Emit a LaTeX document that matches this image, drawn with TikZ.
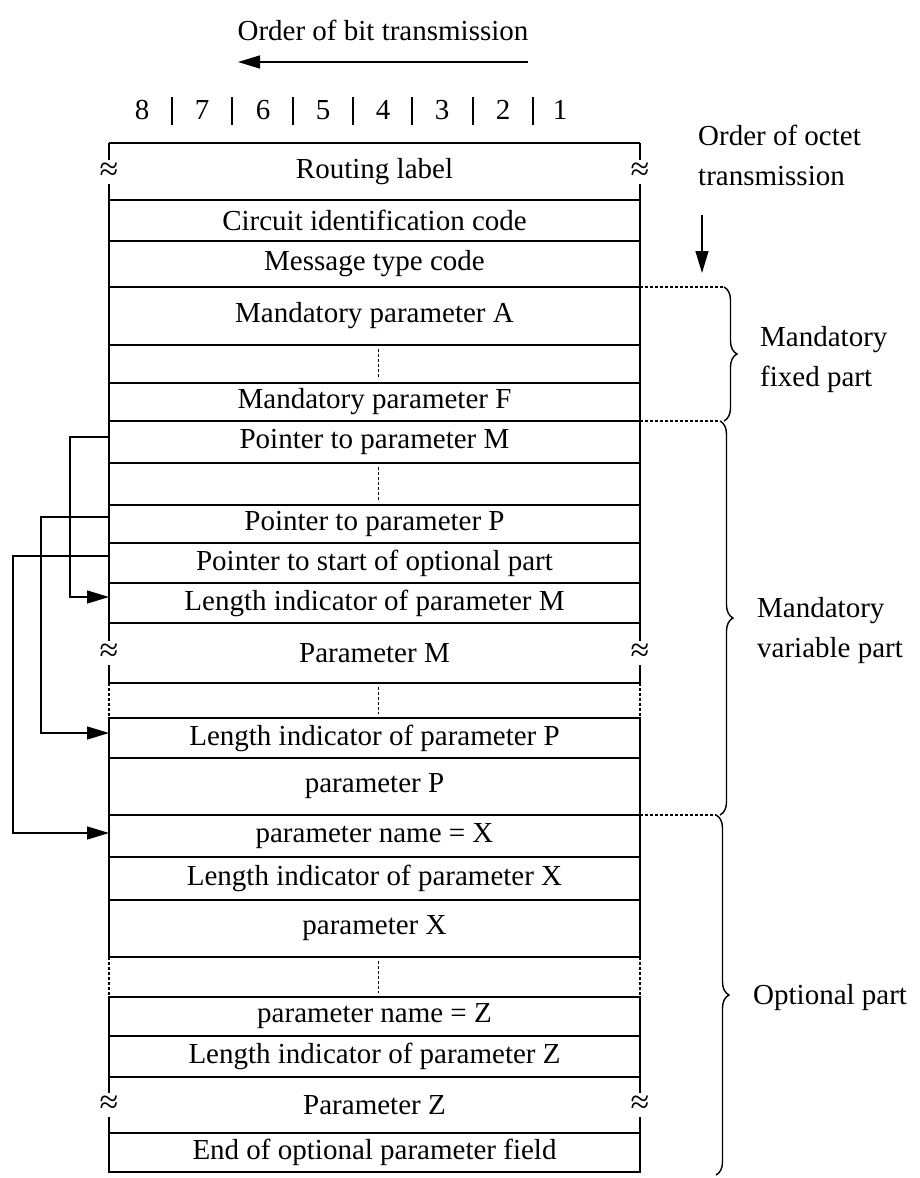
\documentclass[tikz,border=0pt]{standalone}
\usepackage{fontspec}
\setmainfont{Liberation Serif}
\usetikzlibrary{arrows.meta,decorations.pathreplacing}
\newcommand\fieldfont{\fontsize{29}{34}\selectfont}
\newcommand\notefont{\fontsize{29}{40}\selectfont}
\newcommand\wavyfont{\fontsize{34}{34}\selectfont}
\tikzset{
  rule/.style={line width=1.4pt},
  field/.style={rule, draw, minimum width=531pt, inner sep=0pt, outer sep=0pt, anchor=north, font=\fieldfont},
  open/.style={field, draw=none},
  ptr/.style={rule, -{Triangle[length=22pt,width=13pt]}},
  note/.style={font=\notefont, align=left, anchor=west, inner sep=0pt},
  curly/.style={rule, decorate, decoration={brace, amplitude=13pt}},
  dots/.style={rule, dash pattern=on 2.5pt off 2.5pt},
  wavy/.style={font=\wavyfont, inner sep=0pt}
}
% side lines broken by a wave sign
\newcommand\brokensides[1]{%
  \draw[rule] (#1.north west) -- ([yshift=12pt]#1.west) ([yshift=-12pt]#1.west) -- (#1.south west);
  \draw[rule] (#1.north east) -- ([yshift=12pt]#1.east) ([yshift=-12pt]#1.east) -- (#1.south east);
  \node[wavy] (#1-wl) at (#1.west) {≈};
  \node[wavy] (#1-wr) at (#1.east) {≈};}
% vertical dots in the middle of a row
\newcommand\middots[1]{%
  \draw[dots] ([xshift=4pt,yshift=-4pt]#1.north) -- ([xshift=4pt,yshift=4pt]#1.south);}
% dotted side lines
\newcommand\dottedsides[1]{%
  \draw[dots] (#1.north west) -- (#1.south west) (#1.north east) -- (#1.south east);}

\begin{document}
\begin{tikzpicture}[x=1pt, y=-1pt]
  \useasboundingbox (0,0) rectangle (919,1178);

  % order of bits
  \node[font=\fieldfont] (bitorder) at (383,30) {Order of bit transmission};
  \coordinate (bitfrom) at (528,62);
  \coordinate (bitto)   at (238,62);
  \draw[ptr] (bitfrom) -- (bitto);
  \foreach \b/\x in {8/142,7/202,6/263,5/323,4/383,3/442,2/503,1/560}
    \node[font=\fieldfont] (bit\b) at (\x,110) {\b};
  \foreach \x in {172,232,293,353,412,473,533}
    \draw[rule] (\x,97) -- (\x,125);

  % order of octets
  \node[note, anchor=north west] (octetorder) at (698,125) {Order of octet\\transmission};
  \coordinate (octfrom) at (702,215);
  \coordinate (octto)   at (702,273);
  \draw[ptr] (octfrom) -- (octto);

  % message fields
  \node[open,  minimum height=57pt] (routing) at (374.5, 143) {Routing label};
  \node[field, minimum height=41pt] (cic)     at (374.5, 200) {Circuit identification code};
  \node[field, minimum height=46pt] (msgtype) at (374.5, 241) {Message type code};
  \node[field, minimum height=58pt] (mandA)   at (374.5, 287) {Mandatory parameter A};
  \node[field, minimum height=38pt] (gapA)    at (374.5, 345) {};
  \node[field, minimum height=38pt] (mandF)   at (374.5, 383) {Mandatory parameter F};
  \node[field, minimum height=42pt] (ptrM)    at (374.5, 421) {Pointer to parameter M};
  \node[field, minimum height=42pt] (gapMP)   at (374.5, 463) {};
  \node[field, minimum height=38pt] (ptrP)    at (374.5, 505) {Pointer to parameter P};
  \node[field, minimum height=40pt] (ptrOpt)  at (374.5, 543) {Pointer to start of optional part};
  \node[field, minimum height=40pt] (lenM)    at (374.5, 583) {Length indicator of parameter M};
  \node[open,  minimum height=60pt] (parM)    at (374.5, 623) {Parameter M};
  \node[open,  minimum height=35pt] (gapM)    at (374.5, 683) {};
  \node[field, minimum height=40pt] (lenP)    at (374.5, 718) {Length indicator of parameter P};
  \node[field, minimum height=57pt] (parP)    at (374.5, 758) {parameter P};
  \node[field, minimum height=42pt] (nameX)   at (374.5, 815) {parameter name = X};
  \node[field, minimum height=43pt] (lenX)    at (374.5, 857) {Length indicator of parameter X};
  \node[field, minimum height=57pt] (parX)    at (374.5, 900) {parameter X};
  \node[open,  minimum height=40pt] (gapX)    at (374.5, 957) {};
  \node[field, minimum height=39pt] (nameZ)   at (374.5, 997) {parameter name = Z};
  \node[field, minimum height=41pt] (lenZ)    at (374.5,1036) {Length indicator of parameter Z};
  \node[open,  minimum height=56pt] (parZ)    at (374.5,1077) {Parameter Z};
  \node[field, minimum height=39pt] (endOpt)  at (374.5,1133) {End of optional parameter field};

  \draw[rule] (routing.north west) -- (routing.north east);
  \draw[rule] (parM.south west) -- (parM.south east);
  \brokensides{routing}
  \brokensides{parM}
  \brokensides{parZ}
  \dottedsides{gapM}
  \dottedsides{gapX}
  \middots{gapA}
  \middots{gapMP}
  \middots{gapM}
  \middots{gapX}

  % pointers
  \draw[ptr] ([yshift=5pt]ptrM.west)   -- ++(-39,0) |- ([yshift=6pt]lenM.west);
  \draw[ptr] ([yshift=7pt]ptrP.west)   -- ++(-68,0) |- ([yshift=5pt]lenP.west);
  \draw[ptr] ([yshift=7pt]ptrOpt.west) -- ++(-96,0) |- ([yshift=3pt]nameX.west);

  % parts
  \coordinate (fixtop) at (724, 287);
  \coordinate (fixbot) at (724, 421);
  \coordinate (vartop) at (720, 421);
  \coordinate (varbot) at (720, 815);
  \coordinate (opttop) at (716, 815);
  \coordinate (optbot) at (716,1175);
  \draw[dots] (mandA.north east) -- (fixtop);
  \draw[dots] (ptrM.north east)  -- (vartop);
  \draw[dots] (nameX.north east) -- (opttop);
  \draw[curly] (fixtop) -- (fixbot);
  \draw[curly] (vartop) -- (varbot);
  \draw[curly] (opttop) -- (optbot);
  \node[note] (fixlabel) at (760, 360) {Mandatory\\fixed part};
  \node[note] (varlabel) at (757, 631) {Mandatory\\variable part};
  \node[note] (optlabel) at (753, 998) {Optional part};
\end{tikzpicture}
\end{document}
